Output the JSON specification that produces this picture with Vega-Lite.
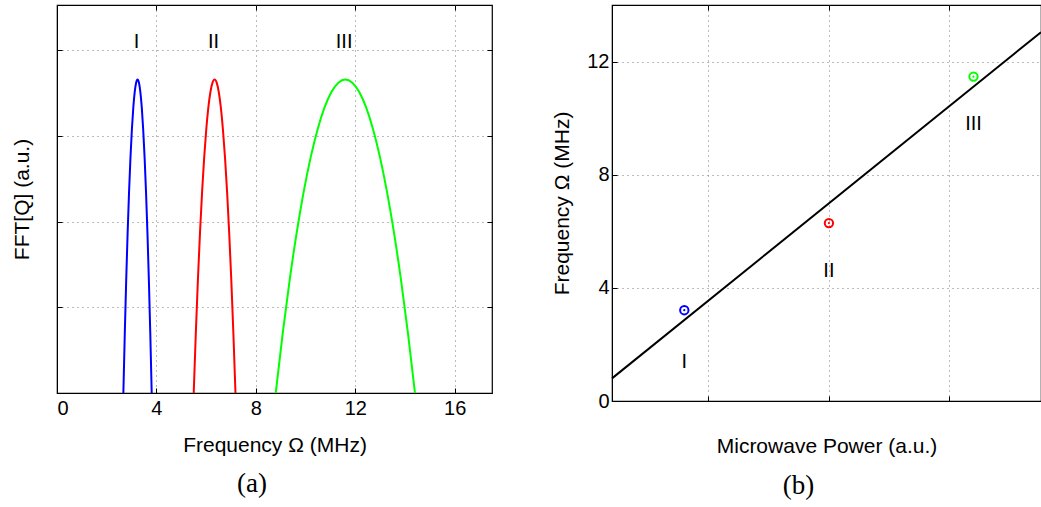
{
  "$schema": "https://vega.github.io/schema/vega-lite/v6.json",
  "background": "white",
  "padding": {"left": 10, "top": 3, "right": 0, "bottom": 0},
  "bounds": "flush",
  "spacing": 120,
  "config": {
    "font": "Liberation Sans",
    "view": {"stroke": "black", "strokeWidth": 1.2},
    "axis": {
      "labelFont": "Liberation Sans", "titleFont": "Liberation Sans",
      "labelFontSize": 20, "titleFontSize": 21, "titleFontWeight": "normal",
      "labelColor": "black", "titleColor": "black",
      "domainColor": "black", "tickColor": "black", "tickSize": -5,
      "gridColor": "#777", "gridDash": [1, 4], "gridWidth": 1
    }
  },
  "datasets": {
    "spectra": [
      {"peak": "I", "freq": 2.67, "amp": 0}, {"peak": "I", "freq": 2.727, "amp": 0.695}, {"peak": "I", "freq": 2.784, "amp": 1.318}, {"peak": "I", "freq": 2.841, "amp": 1.867}, {"peak": "I", "freq": 2.898, "amp": 2.342}, {"peak": "I", "freq": 2.955, "amp": 2.745}, {"peak": "I", "freq": 3.012, "amp": 3.074}, {"peak": "I", "freq": 3.069, "amp": 3.331}, {"peak": "I", "freq": 3.126, "amp": 3.514}, {"peak": "I", "freq": 3.183, "amp": 3.623}, {"peak": "I", "freq": 3.24, "amp": 3.66}, {"peak": "I", "freq": 3.297, "amp": 3.623}, {"peak": "I", "freq": 3.354, "amp": 3.514}, {"peak": "I", "freq": 3.411, "amp": 3.331}, {"peak": "I", "freq": 3.468, "amp": 3.074}, {"peak": "I", "freq": 3.525, "amp": 2.745}, {"peak": "I", "freq": 3.582, "amp": 2.342}, {"peak": "I", "freq": 3.639, "amp": 1.867}, {"peak": "I", "freq": 3.696, "amp": 1.318}, {"peak": "I", "freq": 3.753, "amp": 0.695}, {"peak": "I", "freq": 3.81, "amp": 0},
      {"peak": "II", "freq": 5.5, "amp": 0}, {"peak": "II", "freq": 5.584, "amp": 0.695}, {"peak": "II", "freq": 5.668, "amp": 1.318}, {"peak": "II", "freq": 5.752, "amp": 1.867}, {"peak": "II", "freq": 5.836, "amp": 2.342}, {"peak": "II", "freq": 5.92, "amp": 2.745}, {"peak": "II", "freq": 6.004, "amp": 3.074}, {"peak": "II", "freq": 6.088, "amp": 3.331}, {"peak": "II", "freq": 6.172, "amp": 3.514}, {"peak": "II", "freq": 6.256, "amp": 3.623}, {"peak": "II", "freq": 6.34, "amp": 3.66}, {"peak": "II", "freq": 6.424, "amp": 3.623}, {"peak": "II", "freq": 6.508, "amp": 3.514}, {"peak": "II", "freq": 6.592, "amp": 3.331}, {"peak": "II", "freq": 6.676, "amp": 3.074}, {"peak": "II", "freq": 6.76, "amp": 2.745}, {"peak": "II", "freq": 6.844, "amp": 2.342}, {"peak": "II", "freq": 6.928, "amp": 1.867}, {"peak": "II", "freq": 7.012, "amp": 1.318}, {"peak": "II", "freq": 7.096, "amp": 0.695}, {"peak": "II", "freq": 7.18, "amp": 0},
      {"peak": "III", "freq": 8.8, "amp": 0}, {"peak": "III", "freq": 9.08, "amp": 0.695}, {"peak": "III", "freq": 9.36, "amp": 1.318}, {"peak": "III", "freq": 9.64, "amp": 1.867}, {"peak": "III", "freq": 9.92, "amp": 2.342}, {"peak": "III", "freq": 10.2, "amp": 2.745}, {"peak": "III", "freq": 10.48, "amp": 3.074}, {"peak": "III", "freq": 10.76, "amp": 3.331}, {"peak": "III", "freq": 11.04, "amp": 3.514}, {"peak": "III", "freq": 11.32, "amp": 3.623}, {"peak": "III", "freq": 11.6, "amp": 3.66}, {"peak": "III", "freq": 11.88, "amp": 3.623}, {"peak": "III", "freq": 12.16, "amp": 3.514}, {"peak": "III", "freq": 12.44, "amp": 3.331}, {"peak": "III", "freq": 12.72, "amp": 3.074}, {"peak": "III", "freq": 13.0, "amp": 2.745}, {"peak": "III", "freq": 13.28, "amp": 2.342}, {"peak": "III", "freq": 13.56, "amp": 1.867}, {"peak": "III", "freq": 13.84, "amp": 1.318}, {"peak": "III", "freq": 14.12, "amp": 0.695}, {"peak": "III", "freq": 14.4, "amp": 0}
    ],
    "labelsA": [
      {"label": "I", "freq": 3.2, "amp": 4.1},
      {"label": "II", "freq": 6.3, "amp": 4.1},
      {"label": "III", "freq": 11.55, "amp": 4.1}
    ],
    "points": [
      {"label": "I", "power": 0.8, "freq": 3.21},
      {"label": "II", "power": 2.0, "freq": 6.29},
      {"label": "III", "power": 3.2, "freq": 11.47}
    ],
    "fit": [
      {"power": 0.2, "freq": 0.8},
      {"power": 3.76, "freq": 13.04}
    ],
    "labelsB": [
      {"label": "I", "power": 0.8, "freq": 1.39},
      {"label": "II", "power": 2.0, "freq": 4.6},
      {"label": "III", "power": 3.2, "freq": 9.78}
    ]
  },
  "hconcat": [
    {
      "width": 435,
      "height": 388,
      "title": {"text": "(a)", "orient": "bottom", "frame": "bounds", "anchor": "middle", "font": "Liberation Serif", "fontSize": 27, "fontWeight": "normal", "color": "black", "offset": 16},
      "resolve": {"axis": {"x": "independent", "y": "independent"}},
      "layer": [
        {
          "data": {"name": "spectra"},
          "mark": {"type": "line", "strokeWidth": 2, "interpolate": "monotone"},
          "encoding": {
            "x": {"field": "freq", "type": "quantitative", "scale": {"domain": [0, 17.5], "nice": false, "zero": false},
                  "axis": {"values": [0, 4, 8, 12, 16], "title": "Frequency Ω (MHz)", "titlePadding": 16, "labelPadding": 10, "grid": true}},
            "y": {"field": "amp", "type": "quantitative", "scale": {"domain": [0, 4.53], "nice": false},
                  "axis": {"values": [1, 2, 3, 4], "labels": false, "title": "FFT[Q] (a.u.)", "titlePadding": 24, "grid": true}},
            "color": {"field": "peak", "type": "nominal", "scale": {"domain": ["I", "II", "III"], "range": ["#0000ff", "#ff0000", "#00ff00"]}, "legend": null}
          }
        },
        {
          "data": {"name": "labelsA"},
          "mark": {"type": "text", "fontSize": 20, "font": "Liberation Sans", "color": "black"},
          "encoding": {
            "x": {"field": "freq", "type": "quantitative", "axis": {"orient": "top", "values": [4, 8, 12, 16], "labels": false, "title": null, "grid": false, "domain": false}},
            "y": {"field": "amp", "type": "quantitative", "axis": {"orient": "right", "values": [1, 2, 3, 4], "labels": false, "title": null, "grid": false, "domain": false}},
            "text": {"field": "label"}
          }
        }
      ]
    },
    {
      "width": 429,
      "height": 396,
      "title": {"text": "(b)", "orient": "bottom", "frame": "bounds", "anchor": "middle", "font": "Liberation Serif", "fontSize": 27, "fontWeight": "normal", "color": "black", "offset": 16},
      "resolve": {"axis": {"x": "independent", "y": "independent"}},
      "layer": [
        {
          "data": {"name": "fit"},
          "mark": {"type": "line", "color": "black", "strokeWidth": 2},
          "encoding": {
            "x": {"field": "power", "type": "quantitative", "scale": {"domain": [0.2, 3.76], "nice": false, "zero": false},
                  "axis": {"values": [1, 2, 3], "labels": false, "title": "Microwave Power (a.u.)", "titlePadding": 34, "grid": true}},
            "y": {"field": "freq", "type": "quantitative", "scale": {"domain": [0, 14], "nice": false},
                  "axis": {"values": [0, 4, 8, 12], "title": "Frequency Ω (MHz)", "titlePadding": 14, "labelPadding": 8, "grid": true}}
          }
        },
        {
          "data": {"name": "points"},
          "mark": {"type": "point", "shape": "circle", "size": 70, "strokeWidth": 2, "filled": false, "opacity": 1},
          "encoding": {
            "x": {"field": "power", "type": "quantitative", "axis": {"orient": "top", "values": [1, 2, 3], "labels": false, "title": null, "grid": false, "domain": false}},
            "y": {"field": "freq", "type": "quantitative", "axis": null},
            "color": {"field": "label", "type": "nominal", "scale": {"domain": ["I", "II", "III"], "range": ["#0000ff", "#ff0000", "#00ff00"]}, "legend": null}
          }
        },
        {
          "data": {"name": "points"},
          "mark": {"type": "point", "shape": "circle", "size": 5, "filled": true, "opacity": 1},
          "encoding": {
            "x": {"field": "power", "type": "quantitative", "axis": null},
            "y": {"field": "freq", "type": "quantitative", "axis": null},
            "color": {"field": "label", "type": "nominal", "scale": {"domain": ["I", "II", "III"], "range": ["#0000ff", "#ff0000", "#00ff00"]}, "legend": null}
          }
        },
        {
          "data": {"name": "labelsB"},
          "mark": {"type": "text", "fontSize": 20, "font": "Liberation Sans", "color": "black"},
          "encoding": {
            "x": {"field": "power", "type": "quantitative", "axis": null},
            "y": {"field": "freq", "type": "quantitative", "axis": null},
            "text": {"field": "label"}
          }
        }
      ]
    }
  ]
}
